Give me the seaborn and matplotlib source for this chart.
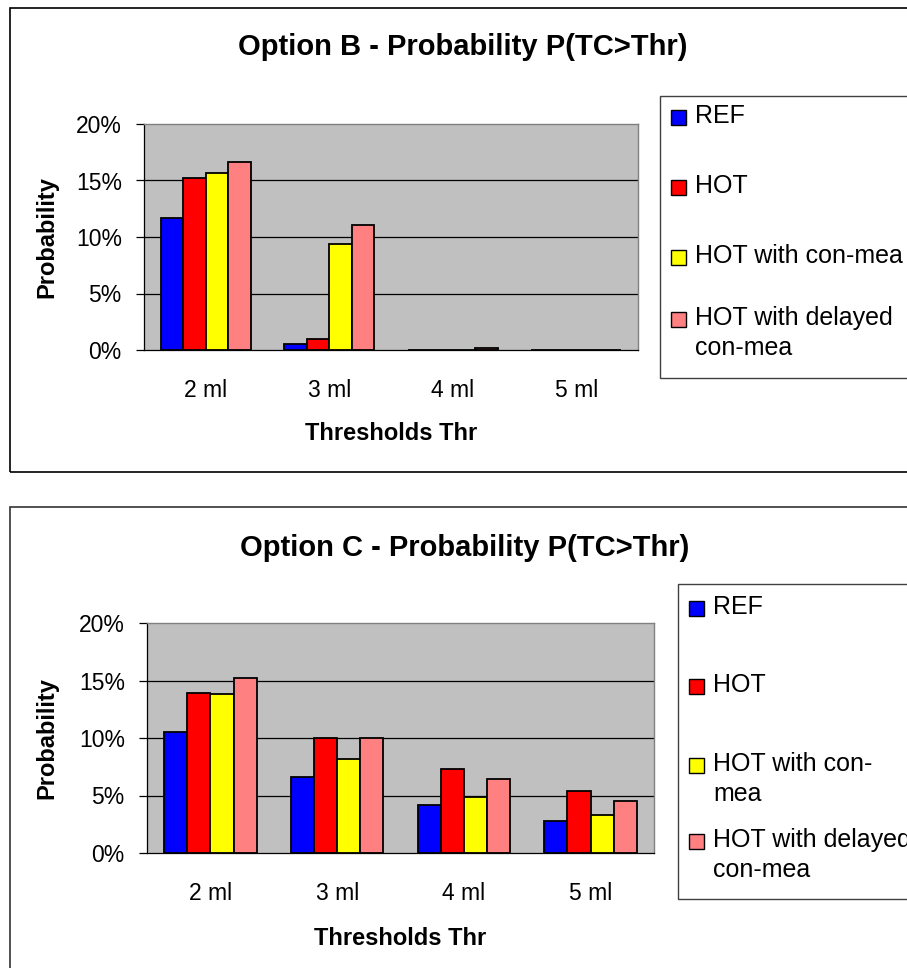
import numpy as np
import pandas as pd
import matplotlib
matplotlib.use("Agg")
import matplotlib.pyplot as plt
from matplotlib.patches import Rectangle
from matplotlib.ticker import PercentFormatter, FixedLocator
import seaborn as sns

# ---- data -----------------------------------------------------------------
thresholds = ["2 ml", "3 ml", "4 ml", "5 ml"]
series = ["REF", "HOT", "HOT with con-mea", "HOT with delayed con-mea"]
colors = ["#0000FF", "#FF0000", "#FFFF00", "#FF8080"]

# Option B: probability P(TC > Thr)
b_ref = [0.117, 0.005, 0.0, 0.0]
b_hot = [0.152, 0.010, 0.0, 0.0]
b_con = [0.157, 0.094, 0.0, 0.0]
b_delayed = [0.166, 0.111, 0.0015, 0.0]

# Option C: probability P(TC > Thr)
c_ref = [0.105, 0.066, 0.042, 0.028]
c_hot = [0.139, 0.100, 0.073, 0.054]
c_con = [0.138, 0.082, 0.049, 0.033]
c_delayed = [0.152, 0.100, 0.064, 0.045]

titles = ["Option B - Probability P(TC>Thr)", "Option C - Probability P(TC>Thr)"]
legend_b = ["REF", "HOT", "HOT with con-mea", "HOT with delayed\ncon-mea"]
legend_c = ["REF", "HOT", "HOT with con-\nmea", "HOT with delayed\ncon-mea"]
y_ticks = [0.0, 0.05, 0.10, 0.15, 0.20]

# ---- style ----------------------------------------------------------------
sns.set_style("white")
plt.rcParams["font.family"] = ["Liberation Sans", "DejaVu Sans"]
plt.rcParams.update({
    "text.color": "black",
    "axes.labelcolor": "black",
    "xtick.color": "black",
    "ytick.color": "black",
})

W, H = 907, 968
fig = plt.figure(figsize=(W / 100, H / 100), dpi=100)
fig.patch.set_facecolor("white")


def fx(x):
    return x / W


def fy(y):
    return 1 - y / H


def long_frame(ref, hot, con, delayed):
    rows = []
    for name, vals in zip(series, [ref, hot, con, delayed]):
        for thr, v in zip(thresholds, vals):
            rows.append({"Threshold": thr, "Series": name, "Probability": v})
    return pd.DataFrame(rows)


def draw_panel(box, df, title, title_pos, xlabel_top, labels, legend_box,
               legend_rows, frame, frame_color):
    left, top, right, bottom = box
    ax = fig.add_axes([fx(left), fy(bottom), fx(right - left), (bottom - top) / H])
    ax.set_facecolor("#C0C0C0")
    sns.barplot(data=df, x="Threshold", y="Probability", hue="Series",
                order=thresholds, hue_order=series, palette=colors,
                saturation=1, width=0.73, errorbar=None,
                edgecolor="black", linewidth=1.3, legend=False, ax=ax, zorder=2)
    ax.set_xlim(-0.5, 3.5)
    ax.set_ylim(0, 0.20)
    ax.yaxis.set_major_locator(FixedLocator(y_ticks))
    ax.yaxis.set_major_formatter(PercentFormatter(1.0, decimals=0))
    for yv in y_ticks[1:-1]:
        ax.axhline(yv, color="black", lw=0.9, zorder=1)

    ax.set_xticks(range(len(thresholds)))
    ax.set_xticklabels(thresholds)
    ax.set_xticks(np.arange(-0.5, len(thresholds), 1.0), minor=True)
    ax.tick_params(axis="x", which="major", length=0, pad=21, labelsize=16.5)
    ax.tick_params(axis="x", which="minor", length=6, width=0.9, direction="out")
    ax.tick_params(axis="y", which="major", length=6, width=0.9, direction="out",
                   pad=10, labelsize=16.5, left=True)

    for side in ["top", "right"]:
        ax.spines[side].set_color("#808080")
        ax.spines[side].set_linewidth(1.0)
    for side in ["left", "bottom"]:
        ax.spines[side].set_color("black")
        ax.spines[side].set_linewidth(0.9)

    ax.set_xlabel("Thresholds Thr", fontsize=17, fontweight="bold")
    ax.set_ylabel("Probability", fontsize=17, fontweight="bold")
    ax.xaxis.set_label_coords(0.5, -(xlabel_top - bottom) / (bottom - top))
    ax.yaxis.set_label_coords(-(left - 58) / (right - left), 0.5)

    fig.text(fx(title_pos[0]), fy(title_pos[1]), title, fontsize=21,
             fontweight="bold", ha="center", va="baseline")

    # chart frame
    fl, ft, fb = frame
    fig.patches.append(Rectangle((fx(fl), fy(fb)), fx(W + 20 - fl), (fb - ft) / H,
                                 transform=fig.transFigure, fill=False,
                                 edgecolor=frame_color, lw=1.2))

    # legend
    lx, lt, lb = legend_box
    fig.patches.append(Rectangle((fx(lx), fy(lb)), fx(W + 20 - lx), (lb - lt) / H,
                                 transform=fig.transFigure, facecolor="white",
                                 edgecolor="#404040", lw=1.0, zorder=3))
    for color, label, base in zip(colors, labels, legend_rows):
        sq_x = lx + 11
        fig.patches.append(Rectangle((fx(sq_x), fy(base + 2)), fx(15), 15 / H,
                                     transform=fig.transFigure, facecolor=color,
                                     edgecolor="black", lw=1.0, zorder=4))
        for i, line in enumerate(label.split("\n")):
            fig.text(fx(sq_x + 24), fy(base + i * 30), line, fontsize=18,
                     ha="left", va="baseline", zorder=5)
    return ax


draw_panel((144, 124, 638, 350), long_frame(b_ref, b_hot, b_con, b_delayed),
           titles[0], (463, 55), 422, legend_b, (660, 96, 378), [123, 193, 263, 325],
           (10, 8, 472), "black")
draw_panel((147, 623, 654, 853), long_frame(c_ref, c_hot, c_con, c_delayed),
           titles[1], (465, 556), 927, legend_c, (678, 584, 899), [614, 692, 771, 847],
           (10, 507, H + 20), "#333333")

fig.savefig("out.png", dpi=100)
